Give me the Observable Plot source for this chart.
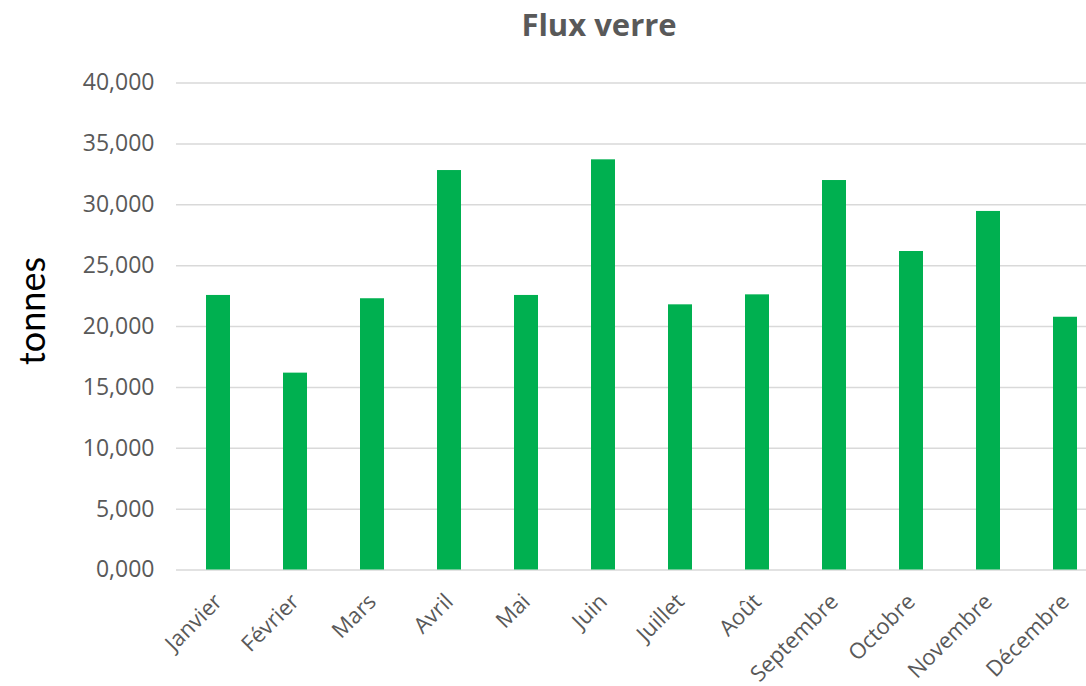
<!DOCTYPE html>
<html>
<head>
<meta charset="utf-8">
<script src="https://cdn.jsdelivr.net/npm/d3@7"></script>
<script src="https://cdn.jsdelivr.net/npm/@observablehq/plot@0.6"></script>
<style>
  html, body { margin: 0; padding: 0; background: #fff; }
  #wrap { position: relative; width: 1086px; height: 686px; overflow: hidden; }
  #title { position: absolute; left: 0; width: 1198px; top: 0; text-align: center;
           font-family: "Open Sans", sans-serif; font-weight: 700; font-size: 31px; color: #595959; line-height: 48px; }
  #ylabel { position: absolute; left: 31px; top: 311px; transform: translate(-50%, -50%) rotate(-90deg);
            font-family: Lato, sans-serif; font-size: 36px; color: #000; white-space: nowrap; }
  #chart { position: absolute; left: 0; top: 0; }
</style>
</head>
<body>
<div id="wrap">
  <div id="chart"></div>
  <div id="title">Flux verre</div>
  <div id="ylabel">tonnes</div>
</div>
<script>
const months = ["Janvier","Février","Mars","Avril","Mai","Juin","Juillet","Août","Septembre","Octobre","Novembre","Décembre"];
const values = [22550, 16170, 22280, 32810, 22550, 33690, 21780, 22600, 31990, 26160, 29450, 20760];
const yTicks = [0, 5000, 10000, 15000, 20000, 25000, 30000, 35000, 40000];
const yTickLabels = ["0,000","5,000","10,000","15,000","20,000","25,000","30,000","35,000","40,000"];

const data = months.map((m, i) => ({month: m, value: values[i]}));

const chart = Plot.plot({
  width: 1086,
  height: 686,
  marginLeft: 176,
  marginRight: 0,
  marginTop: 82.5,
  marginBottom: 116.5,
  style: {fontFamily: "'Open Sans', sans-serif", background: "#fff", overflow: "visible"},
  x: {domain: months, range: [177.4, 1104.6], paddingInner: 0.69, paddingOuter: 0.345, align: 0.5},
  y: {domain: [0, 40000]},
  marks: [
    Plot.ruleY(yTicks, {stroke: "#d9d9d9", strokeWidth: 1.5}),
    Plot.barY(data, {x: "month", y: "value", fill: "#00B050"}),
    Plot.axisY(yTicks, {tickFormat: (d) => yTickLabels[yTicks.indexOf(d)], tickSize: 0, tickPadding: 22, fontSize: 23, fill: "#595959", label: null}),
    Plot.axisX({tickRotate: -45, tickSize: 0, tickPadding: 28, fontSize: 22, fill: "#595959", label: null})
  ]
});
document.getElementById("chart").appendChild(chart);
</script>
</body>
</html>
